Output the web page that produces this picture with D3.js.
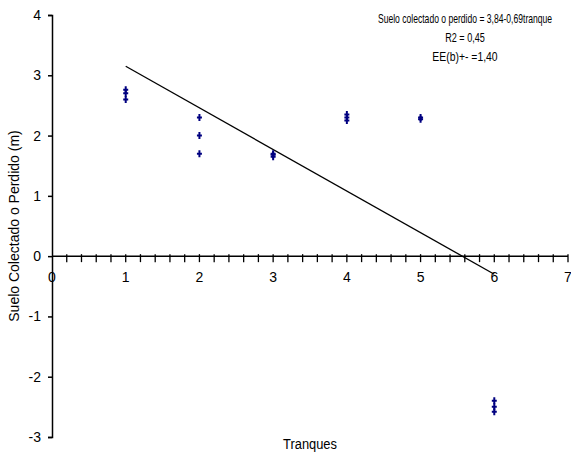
<!DOCTYPE html>
<html>
<head>
<meta charset="utf-8">
<script src="https://cdn.jsdelivr.net/npm/d3@7"></script>
<style>
  body { margin: 0; background: #fff; }
  text { font-family: "Liberation Sans", Arial, sans-serif; fill: #000; }
</style>
</head>
<body>
<div id="chart"></div>
<script>
// data
var tranque = [1, 1, 1, 2, 2, 2, 3, 3, 3, 4, 4, 4, 5, 5, 6, 6, 6];
var suelo = [2.6, 2.7, 2.76, 2.3, 2.0, 1.7, 1.65, 1.7, 1.68, 2.35, 2.25, 2.3, 2.3, 2.27, -2.4, -2.5, -2.58];
var xTicks = [0, 1, 2, 3, 4, 5, 6, 7];
var yTicks = [-3, -2, -1, 0, 1, 2, 3, 4];
var fitA = 3.84, fitB = -0.69, fitRange = [1, 6];
var notes = ['Suelo colectado o perdido = 3,84-0,69tranque', 'R2 = 0,45', 'EE(b)+- =1,40'];

var width = 571, height = 457;

var svg = d3.select('#chart').append('svg')
    .attr('width', width)
    .attr('height', height);

var x = d3.scaleLinear().domain([0, 7]).range([52, 568]);
var y = d3.scaleLinear().domain([-3, 4]).range([437, 15]);

// y axis (plain hyphen for negatives, like the original)
var yAxis = d3.axisLeft(y).tickValues(yTicks).tickSize(4).tickPadding(7)
    .tickFormat(function(d) { return String(d); });
var gy = svg.append('g').attr('transform', 'translate(' + x(0) + ',0)').call(yAxis);
gy.select('.domain').attr('stroke', '#000').attr('stroke-width', 1.5);
gy.selectAll('.tick line').attr('stroke', '#000').attr('stroke-width', 1.5);
gy.selectAll('.tick text').style('font-size', '14px').attr('font-family', '"Liberation Sans", Arial, sans-serif');

// x axis on y = 0, minor ticks every 0.2
var minor = d3.range(0, 35).map(function(i) { return (i + 1) * 0.2; });
var gx = svg.append('g').attr('transform', 'translate(0,' + y(0) + ')');
gx.append('line')
    .attr('x1', x(0)).attr('x2', x(7))
    .attr('stroke', '#000').attr('stroke-width', 1.5);
gx.selectAll('.minor').data(minor).enter().append('line')
    .attr('class', 'minor')
    .attr('x1', function(d) { return x(d); })
    .attr('x2', function(d) { return x(d); })
    .attr('y1', -2).attr('y2', 6)
    .attr('stroke', '#000').attr('stroke-width', 1.3);
gx.selectAll('.lab').data(xTicks).enter().append('text')
    .attr('class', 'lab')
    .attr('x', function(d) { return x(d); })
    .attr('y', 26)
    .attr('text-anchor', 'middle')
    .style('font-size', '14px')
    .text(function(d) { return d; });

// regression line
svg.append('line')
    .attr('x1', x(fitRange[0])).attr('y1', y(fitA + fitB * fitRange[0]))
    .attr('x2', x(fitRange[1])).attr('y2', y(fitA + fitB * fitRange[1]))
    .attr('stroke', '#000').attr('stroke-width', 1.3);

// points: small navy crosses
svg.selectAll('.pt').data(tranque).enter().append('path')
    .attr('class', 'pt')
    .attr('transform', function(d, i) { return 'translate(' + x(d) + ',' + y(suelo[i]) + ')'; })
    .attr('d', 'M0,-3.5V3.5M-2.5,0H2.5')
    .attr('stroke', '#000080')
    .attr('stroke-width', 2)
    .attr('fill', 'none');

// annotation, squeezed horizontally like the original's narrow font
var noteY = [23, 42, 61];
var noteScale = [0.66, 0.7, 0.8];
svg.selectAll('.note').data(notes).enter().append('text')
    .attr('class', 'note')
    .attr('transform', function(d, i) { return 'translate(465,' + noteY[i] + ') scale(' + noteScale[i] + ',1)'; })
    .attr('text-anchor', 'middle')
    .style('font-size', '13px')
    .text(function(d) { return d; });

// axis titles
svg.append('text')
    .attr('transform', 'translate(19,226) rotate(-90)')
    .attr('text-anchor', 'middle')
    .style('font-size', '14px')
    .text('Suelo Colectado o Perdido (m)');

svg.append('text')
    .attr('transform', 'translate(310,449) scale(0.92,1)')
    .attr('text-anchor', 'middle')
    .style('font-size', '14px')
    .text('Tranques');
</script>
</body>
</html>
